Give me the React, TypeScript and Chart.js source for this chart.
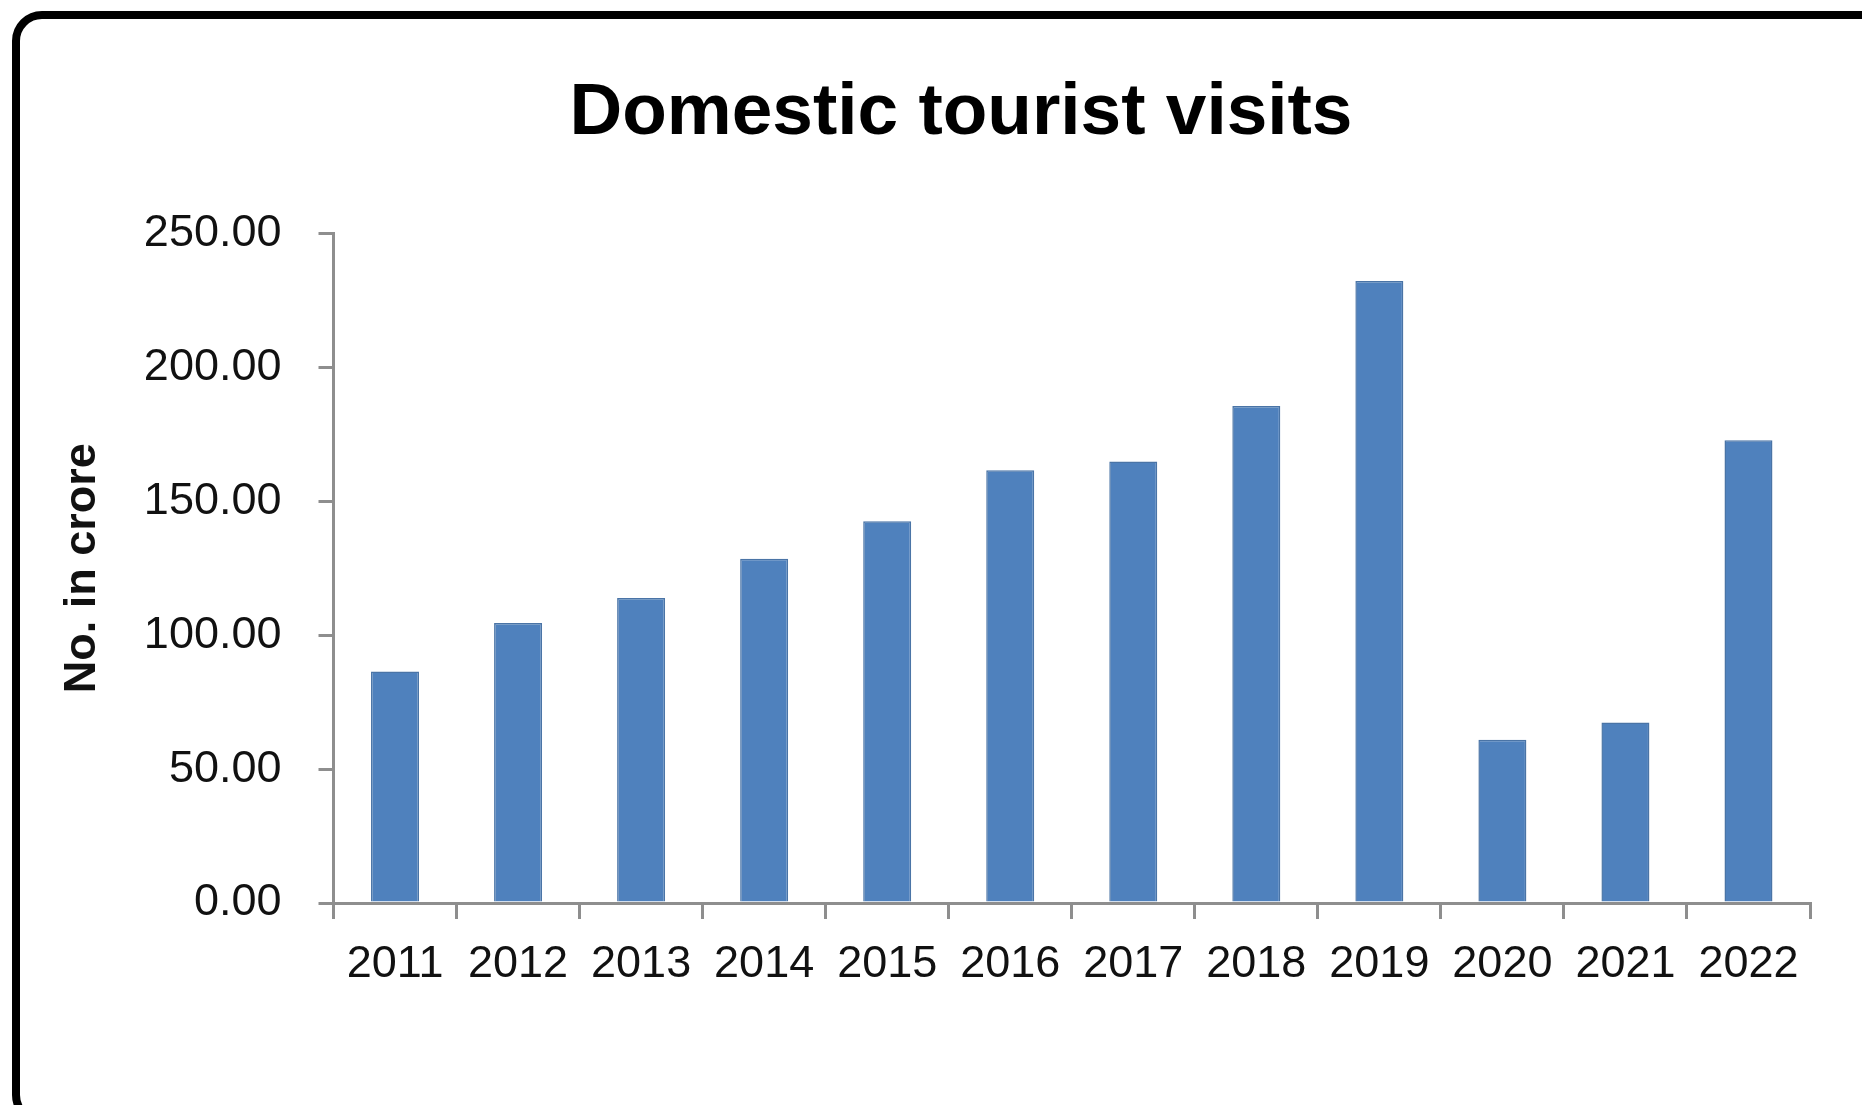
import React, { useEffect, useRef } from "react";
import { Chart, registerables } from "chart.js";

Chart.register(...registerables);

const titleText = "Domestic tourist visits";
const yAxisTitle = "No. in crore";
const categories = ["2011", "2012", "2013", "2014", "2015", "2016", "2017", "2018", "2019", "2020", "2021", "2022"];
const visits = [86.5, 104.6, 113.9, 128.6, 142.6, 161.6, 164.9, 185.6, 232.3, 61.0, 67.4, 172.8];
const yMin = 0;
const yMax = 250;
const yStep = 50;

const FONT = "'Liberation Sans', Arial, sans-serif";
const AXIS = "#8e8e8e";

export default function App() {
  const ref = useRef<HTMLCanvasElement | null>(null);

  useEffect(() => {
    if (!ref.current) return;
    const chart = new Chart(ref.current, {
      type: "bar",
      data: {
        labels: categories,
        datasets: [
          {
            label: titleText,
            data: visits,
            backgroundColor: "#4f81bd",
            borderColor: "#4a74a6",
            borderWidth: 1.5,
            barPercentage: 1,
            categoryPercentage: 0.39,
          },
        ],
      },
      options: {
        animation: false,
        responsive: false,
        layout: { padding: { left: 112, right: 52, top: 0, bottom: 94 } },
        plugins: {
          legend: { display: false },
          tooltip: { enabled: false },
          title: {
            display: true,
            text: titleText,
            color: "#000",
            font: { family: FONT, size: 73, weight: "bold" },
            padding: { top: 70, bottom: 76 },
          },
        },
        scales: {
          x: {
            grid: {
              display: true,
              offset: true,
              drawOnChartArea: false,
              drawTicks: true,
              tickLength: 16,
              color: AXIS,
              lineWidth: 3,
            },
            border: { display: true, color: AXIS, width: 3 },
            ticks: {
              color: "#111",
              font: { family: FONT, size: 45 },
              padding: 19,
              maxRotation: 0,
              autoSkip: false,
            },
          },
          y: {
            min: yMin,
            max: yMax,
            afterFit: (s: any) => {
              s.width = 221.5;
            },
            grid: {
              display: true,
              drawOnChartArea: false,
              drawTicks: true,
              tickLength: 15,
              color: AXIS,
              lineWidth: 3,
            },
            border: { display: true, color: AXIS, width: 3 },
            ticks: {
              stepSize: yStep,
              color: "#111",
              font: { family: FONT, size: 45 },
              padding: 37,
              callback: (v: any) => Number(v).toFixed(2),
            },
            title: {
              display: true,
              text: yAxisTitle,
              color: "#111",
              font: { family: FONT, size: 45, weight: "bold" },
              padding: { top: -56, bottom: 0 },
            },
          },
        },
      },
    });
    return () => chart.destroy();
  }, []);

  return (
    <div
      style={{
        position: "fixed",
        left: 0,
        top: 0,
        width: 1862,
        height: 1105,
        overflow: "hidden",
        background: "#fff",
      }}
    >
      <div
        style={{
          position: "absolute",
          left: 12,
          top: 11,
          width: 1880,
          height: 1114,
          border: "8px solid #000",
          borderRadius: 30,
          boxSizing: "border-box",
        }}
      />
      <canvas
        ref={ref}
        width={1862}
        height={1105}
        style={{ position: "absolute", left: 0, top: 0, width: 1862, height: 1105 }}
      />
    </div>
  );
}
